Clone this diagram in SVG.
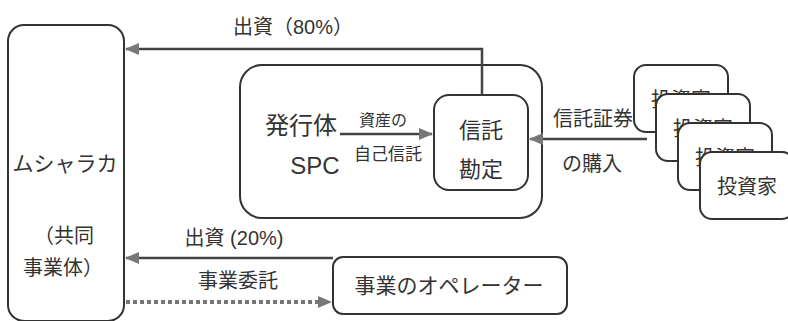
<svg xmlns="http://www.w3.org/2000/svg" width="788" height="321" viewBox="0 0 788 321">
<style>
.box{fill:#fff;stroke:#333;stroke-width:2}
.t{font-family:"Liberation Sans","Noto Sans CJK JP",sans-serif;fill:#333;text-anchor:middle}
.ln{fill:none;stroke:#444;stroke-width:2.5}
.dot{fill:none;stroke:#777;stroke-width:4;stroke-dasharray:4 3}
</style>
<defs>
<marker id="ah" markerWidth="14" markerHeight="12" refX="13" refY="6" orient="auto" markerUnits="userSpaceOnUse">
<path d="M0,0 L14,6 L0,12 Z" fill="#777"/>
</marker>
</defs>
<rect width="788" height="321" fill="#fff"/>
<g id="musharaka">
<rect class="box" x="8" y="25" width="116" height="296" rx="16"/>
<text class="t" x="65" y="171" font-size="21">ムシャラカ</text>
<text class="t" x="64" y="243" font-size="20">（共同</text>
<text class="t" x="63" y="275" font-size="20">事業体）</text>
</g>
<g id="spc">
<rect class="box" x="240" y="65" width="302" height="153" rx="22"/>
<text class="t" x="301" y="134" font-size="24">発行体</text>
<text class="t" x="315" y="174" font-size="24">SPC</text>
</g>
<g id="trust">
<rect class="box" x="434" y="95" width="94" height="95" rx="15"/>
<text class="t" x="481" y="138" font-size="22">信託</text>
<text class="t" x="481" y="177" font-size="22">勘定</text>
</g>
<g id="investors">
<rect class="box" x="634" y="65" width="94" height="67" rx="12"/>
<text class="t" x="681" y="107" font-size="20">投資家</text>
<rect class="box" x="656" y="94" width="94" height="67" rx="12"/>
<text class="t" x="703" y="136" font-size="20">投資家</text>
<rect class="box" x="678" y="123" width="94" height="67" rx="12"/>
<text class="t" x="725" y="165" font-size="20">投資家</text>
<rect class="box" x="700" y="152" width="94" height="67" rx="12"/>
<text class="t" x="747" y="194" font-size="20">投資家</text>
</g>
<g id="operator">
<rect class="box" x="333" y="257" width="234" height="57" rx="10"/>
<text class="t" x="449" y="293" font-size="21">事業のオペレーター</text>
</g>
<g id="connectors">
<path class="ln" d="M482,95 V49 H126" marker-end="url(#ah)"/>
<text class="t" x="293" y="34" font-size="20">出資（80%）</text>
<path class="ln" d="M340,134 H432" marker-end="url(#ah)"/>
<text class="t" x="383" y="126" font-size="16">資産の</text>
<text class="t" x="388" y="160" font-size="17">自己信託</text>
<path class="ln" d="M647,139 H530" marker-end="url(#ah)"/>
<text class="t" x="593" y="126" font-size="20">信託証券</text>
<text class="t" x="592" y="171" font-size="20">の購入</text>
<path class="ln" d="M333,258 H126" marker-end="url(#ah)"/>
<text class="t" x="234" y="245" font-size="20">出資 (20%)</text>
<path class="dot" d="M126,302 H318"/>
<path d="M318,296 L332,302 L318,308 Z" fill="#777"/>
<text class="t" x="238" y="288" font-size="20">事業委託</text>
</g>
</svg>
